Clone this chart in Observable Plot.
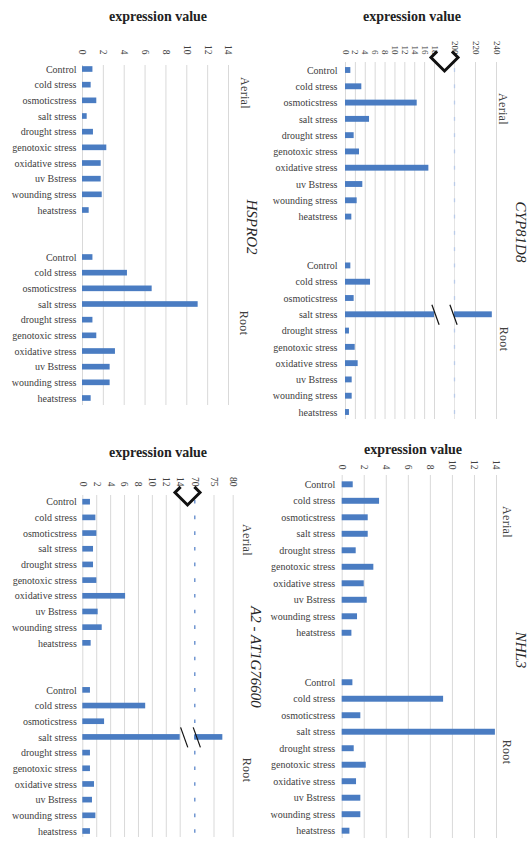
<!DOCTYPE html>
<html><head><meta charset="utf-8">
<script src="https://cdn.jsdelivr.net/npm/d3@7"></script>
<script src="https://cdn.jsdelivr.net/npm/@observablehq/plot@0.6"></script>
<style>
html,body{margin:0;padding:0;background:#fff;}
#root{position:relative;width:530px;height:842px;overflow:hidden;font-family:"Liberation Serif","Times New Roman",serif;}
#root svg{position:absolute;left:0;top:0;}
#root svg, #root svg text{font-family:"Liberation Serif","Times New Roman",serif !important;}
.lab{position:absolute;white-space:nowrap;line-height:1;}
</style></head><body><div id="root"></div>
<script>
// ---------- data ----------
const categories = ["Control","cold stress","osmoticstress","salt stress","drought stress","genotoxic stress","oxidative stress","uv Bstress","wounding stress","heatstress"];
const groupNames = ["Aerial","Root"];
const axisTitle = "expression value";
const geneNames = ["HSPRO2","CYP81D8","A2 - AT1G76600","NHL3"];

const hspro2Aerial = [1.0,0.83,1.37,0.45,1.05,2.33,1.79,1.79,1.89,0.64];
const hspro2Root   = [1.0,4.31,6.68,11.09,1.0,1.37,3.16,2.65,2.65,0.83];
const cyp81d8Aerial = [1.08,3.3,14.5,4.86,1.75,2.83,16.86,3.5,2.36,1.28];
const cyp81d8Root   = [1.08,5.06,1.75,236,0.8,1.96,2.56,1.35,1.35,0.8];
const at1g76600Aerial = [1.1,1.88,2.02,1.54,1.54,2.02,6.15,2.21,2.79,1.2];
const at1g76600Root   = [1.1,9.04,3.13,77.3,1.1,1.1,1.68,1.39,1.88,1.1];
const nhl3Aerial = [1.0,3.39,2.36,2.36,1.27,2.87,2.0,2.27,1.39,0.88];
const nhl3Root   = [0.97,9.2,1.69,13.9,1.09,2.18,1.3,1.69,1.69,0.7];

const hspro2Ticks = [0,2,4,6,8,10,12,14];
const cyp81d8Ticks = [0,2,4,6,8,10,12,14,16,18,200,220,240];
const at1g76600Ticks = [0,2,4,6,8,10,12,14,70,75,80];
const nhl3Ticks = [0,2,4,6,8,10,12,14];

// ---------- layout ----------
const serif = '"Liberation Serif","Times New Roman",serif';
const barColor = "#4a7cc2";
const textColor = "#404040";
const slots = [...categories.map(c => "Aerial|" + c), "gap1", "gap2", ...categories.map(c => "Root|" + c)];
const realSlots = slots.filter(s => s.includes("|"));

const panels = [
  {gene: geneNames[0], aerial: hspro2Aerial, root: hspro2Root, ticks: hspro2Ticks,
   domain: [0,14], range: [82,228], top: 65, bottom: 405, yFirst: 69, yLast: 398,
   labelPad: 6, tickEnd: 54, tickFont: 9.5,
   title: [158,17], geneLab: [251,227], aerialLab: [245,93], rootLab: [244,323]},
  {gene: geneNames[1], aerial: cyp81d8Aerial, root: cyp81d8Root, ticks: cyp81d8Ticks,
   domain: [0,18,200,240], range: [345,434,454,496], top: 62, bottom: 419, yFirst: 70, yLast: 412,
   labelPad: 8, tickEnd: 54, tickFont: 9,
   brk: {lo: 18, hi: 200, dia: 13.5, diaDy: -5, slashDx: [1,-1], dashColor: "#b9cbe8", greyAtHi: true},
   title: [412,17], geneLab: [520,232], aerialLab: [503,109], rootLab: [504,339]},
  {gene: geneNames[2], aerial: at1g76600Aerial, root: at1g76600Root, ticks: at1g76600Ticks,
   domain: [0,14,70,80], range: [82.3,179.7,194.3,232.7], top: 495, bottom: 837, yFirst: 501.7, yLast: 831,
   labelPad: 6, tickEnd: 486, tickFont: 9.5,
   brk: {lo: 14, hi: 70, dia: 12.5, diaDy: -3, slashDx: [4,2], dashColor: "#5b86c9", greyAtHi: false},
   title: [158,453], geneLab: [255,657], aerialLab: [247,540], rootLab: [247,770]},
  {gene: geneNames[3], aerial: nhl3Aerial, root: nhl3Root, ticks: nhl3Ticks,
   domain: [0,14], range: [341.7,496], top: 475, bottom: 838, yFirst: 484.3, yLast: 830.7,
   labelPad: 7, tickEnd: 469, tickFont: 9.5,
   title: [413,450], geneLab: [520,650], aerialLab: [507,522], rootLab: [507,752]}
];

const slashSymbol = {draw(ctx, size) { const r = Math.sqrt(size / Math.PI); ctx.moveTo(-0.36 * r, -r); ctx.lineTo(0.36 * r, r); }};
const diamondSymbol = {draw(ctx, size) {
  const r = Math.sqrt(size / Math.PI), k = 0.45;
  ctx.moveTo(-r * (1 - k), -r * k); ctx.lineTo(-r, 0); ctx.lineTo(0, r); ctx.lineTo(r, 0); ctx.lineTo(r * (1 - k), -r * k);
}};

function buildRows(p) {
  const out = [];
  [p.aerial, p.root].forEach((vals, gi) => vals.forEach((v, i) => {
    const slot = groupNames[gi] + "|" + categories[i];
    if (p.brk && v > p.brk.lo) {
      out.push({slot, x1: 0, x2: p.brk.lo, broken: true});
      out.push({slot, x1: p.brk.hi, x2: v});
    } else out.push({slot, x1: 0, x2: v});
  }));
  return out;
}

const root = document.getElementById("root");

for (const p of panels) {
  const s = (p.yLast - p.yFirst) / 21;
  const rows = buildRows(p);
  const brokenRows = rows.filter(d => d.broken);
  const gridTicks = p.brk ? p.ticks.filter(t => t !== p.brk.hi) : p.ticks;
  const marks = [
    Plot.ruleX(gridTicks, {x: d => d, stroke: "#d9d9d9", strokeWidth: 1})
  ];
  if (p.brk) {
    if (p.brk.greyAtHi) marks.push(Plot.ruleX([p.brk.hi], {x: d => d, stroke: "#e4e4e4", strokeWidth: 1}));
    marks.push(Plot.tickX(slots, {x: () => p.brk.hi, y: d => d, stroke: p.brk.dashColor, strokeWidth: 1.3, inset: 1}));
  }
  marks.push(Plot.barX(rows, {y: "slot", x1: "x1", x2: "x2", fill: barColor}));
  marks.push(Plot.axisY({ticks: realSlots, tickSize: 0, tickPadding: p.labelPad, label: null,
    tickFormat: d => d.split("|")[1], fontSize: 10, fontFamily: serif}));
  marks.push(Plot.text(p.ticks, {x: d => d, text: d => String(d), frameAnchor: "top", dy: p.tickEnd - p.top,
    rotate: 90, textAnchor: "end", lineAnchor: "middle", fontSize: p.tickFont, fontFamily: serif, fill: textColor}));
  if (p.brk) {
    marks.push(Plot.dot(brokenRows, {x: () => p.brk.lo, y: "slot", dx: p.brk.slashDx[0], symbol: slashSymbol, r: 10,
      stroke: "#111", fill: "none", strokeWidth: 1.2}));
    marks.push(Plot.dot(brokenRows, {x: () => p.brk.hi, y: "slot", dx: p.brk.slashDx[1], symbol: slashSymbol, r: 10,
      stroke: "#111", fill: "none", strokeWidth: 1.2}));
    marks.push(Plot.dot([ (p.brk.lo + p.brk.hi) / 2 ], {x: d => d, frameAnchor: "top", dy: p.brk.diaDy,
      symbol: diamondSymbol, r: p.brk.dia, fill: "white", stroke: "#111", strokeWidth: 3, strokeLinejoin: "miter"}));
  }
  const chart = Plot.plot({
    width: 530, height: 842,
    marginTop: p.top, marginBottom: 842 - p.bottom,
    marginLeft: p.range[0], marginRight: 530 - p.range[p.range.length - 1],
    x: {type: "linear", domain: p.domain, range: p.range, axis: null},
    y: {type: "band", domain: slots, range: [p.yFirst - s / 2, p.yLast + s / 2], round: false,
        paddingInner: 0.64, paddingOuter: 0.32, align: 0.5, axis: null, label: null},
    style: {background: "transparent", color: textColor, fontFamily: serif, overflow: "visible"},
    marks
  });
  root.appendChild(chart);

  const addLabel = (text, [cx, cy], css, rot) => {
    const el = document.createElement("div");
    el.className = "lab";
    el.textContent = text;
    el.style.cssText += css;
    el.style.left = cx + "px";
    el.style.top = cy + "px";
    el.style.transform = "translate(-50%,-50%)" + (rot ? " rotate(90deg)" : "");
    root.appendChild(el);
  };
  addLabel(axisTitle, p.title, "font-size:14px;font-weight:bold;color:#222;", false);
  addLabel(p.gene, p.geneLab, "font-size:15px;font-style:italic;color:#262626;", true);
  addLabel(groupNames[0], p.aerialLab, "font-size:12px;color:" + textColor + ";letter-spacing:0.3px;", true);
  addLabel(groupNames[1], p.rootLab, "font-size:12px;color:" + textColor + ";letter-spacing:0.3px;", true);
}
</script></body></html>
